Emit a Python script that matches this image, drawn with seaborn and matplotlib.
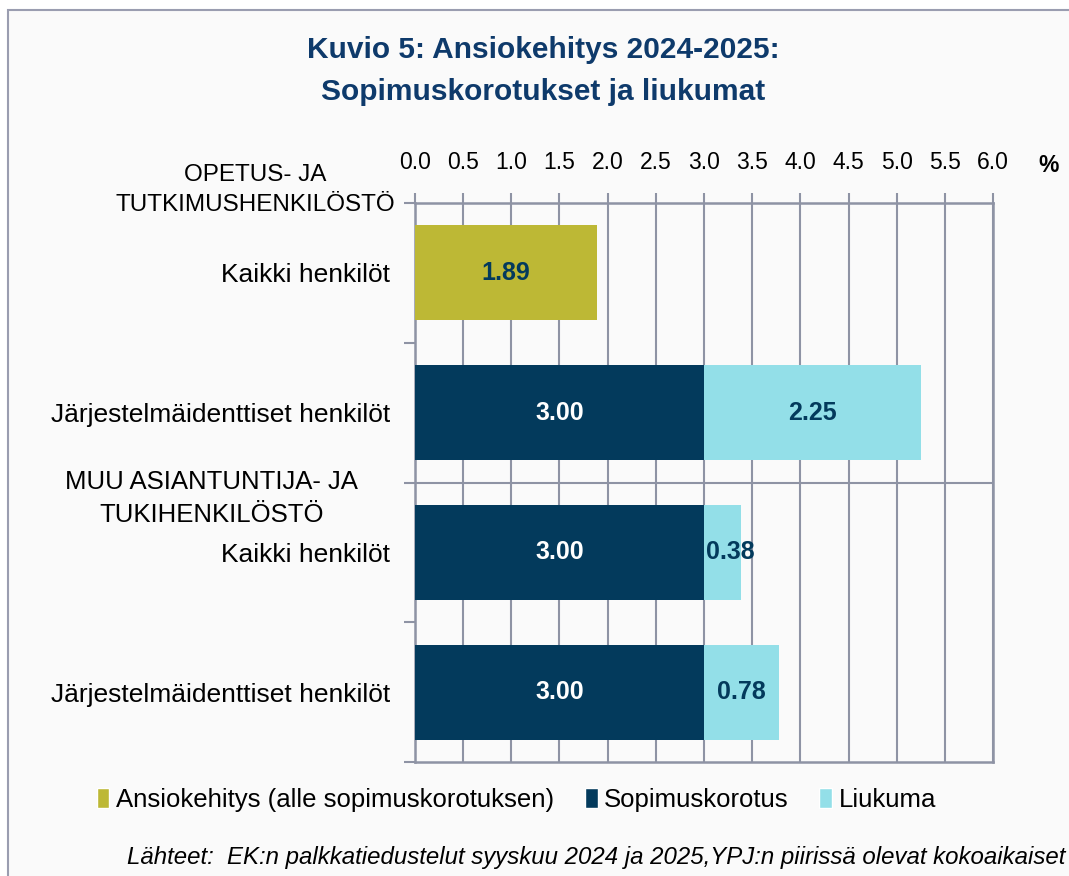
import matplotlib

matplotlib.use("Agg")

import matplotlib.pyplot as plt
import numpy as np
import pandas as pd
import seaborn as sns
from matplotlib.patches import Patch, Rectangle

# data
row_ids = ["r0", "r1", "r2", "r3"]
row_labels = [
    "Kaikki henkilöt",
    "Järjestelmäidenttiset henkilöt",
    "Kaikki henkilöt",
    "Järjestelmäidenttiset henkilöt",
]
group_labels = ["OPETUS- JA\nTUTKIMUSHENKILÖSTÖ", "MUU ASIANTUNTIJA- JA\nTUKIHENKILÖSTÖ"]
ansiokehitys = [1.89, np.nan, np.nan, np.nan]
sopimuskorotus = [np.nan, 3.00, 3.00, 3.00]
liukuma = [np.nan, 2.25, 0.38, 0.78]
x_ticks = [0.0, 0.5, 1.0, 1.5, 2.0, 2.5, 3.0, 3.5, 4.0, 4.5, 5.0, 5.5, 6.0]

OLIVE = "#BDB835"
NAVY = "#033A5C"
CYAN = "#93DFE8"
TITLE_BLUE = "#0E3A6B"
GRID = "#8E93A4"

sns.set_theme(style="white")
plt.rcParams["font.family"] = ["Liberation Sans", "DejaVu Sans"]
plt.rcParams["text.color"] = "black"
plt.rcParams["xtick.color"] = "black"
plt.rcParams["ytick.color"] = "black"

df = pd.DataFrame(
    {
        "row": row_ids,
        "ansiokehitys": ansiokehitys,
        "sopimuskorotus": sopimuskorotus,
        "liukuma": liukuma,
    }
)
df["total"] = df["sopimuskorotus"] + df["liukuma"]

fig = plt.figure(figsize=(10.69, 8.76), dpi=100, facecolor="white")
fig.patches.append(
    Rectangle((0.0075, -0.1), 1.2, 1.0886, transform=fig.transFigure,
              facecolor="#FAFAFA", edgecolor="#9A9DB0", linewidth=1.5, zorder=-10)
)
ax = fig.add_axes([0.388, 0.1301, 0.541, 0.6382])
ax.set_facecolor("none")

# stacked bars: draw the total first, then the base segment on top
bar_w = 0.68
stacked = df.dropna(subset=["total"])
sns.barplot(data=stacked, x="total", y="row", order=row_ids, orient="h",
            color=CYAN, width=bar_w, saturation=1, ax=ax, zorder=3)
sns.barplot(data=stacked, x="sopimuskorotus", y="row", order=row_ids, orient="h",
            color=NAVY, width=bar_w, saturation=1, ax=ax, zorder=3)
single = df.dropna(subset=["ansiokehitys"])
sns.barplot(data=single, x="ansiokehitys", y="row", order=row_ids, orient="h",
            color=OLIVE, width=bar_w, saturation=1, ax=ax, zorder=3)
for p in ax.patches:
    p.set_linewidth(0)

# value labels
lab = dict(va="center", fontsize=18, fontweight="bold", zorder=5)
for i, r in df.iterrows():
    if not np.isnan(r["ansiokehitys"]):
        ax.text(r["ansiokehitys"] / 2, i, f"{r['ansiokehitys']:.2f}", color=NAVY,
                ha="center", **lab)
    if not np.isnan(r["sopimuskorotus"]):
        ax.text(r["sopimuskorotus"] / 2, i, f"{r['sopimuskorotus']:.2f}", color="white",
                ha="center", **lab)
        if r["liukuma"] < 0.5:
            # narrow segment: label starts at the segment edge
            ax.text(r["sopimuskorotus"] + 0.02, i, f"{r['liukuma']:.2f}", color=NAVY,
                    ha="left", **lab)
        else:
            ax.text(r["sopimuskorotus"] + r["liukuma"] / 2, i, f"{r['liukuma']:.2f}",
                    color=NAVY, ha="center", **lab)

ax.set_xlim(0, 6)
ax.set_ylim(3.5, -0.5)
ax.xaxis.tick_top()
ax.set_xticks(x_ticks)
ax.set_xticklabels([f"{t:.1f}" for t in x_ticks], fontsize=16.5)
ax.tick_params(axis="x", which="major", top=True, bottom=False, length=7, width=1.5,
               color=GRID, pad=14)
ax.set_yticks(range(len(row_ids)))
ax.set_yticklabels(row_labels, fontsize=19)
ax.set_yticks([-0.5, 0.5, 1.5, 2.5, 3.5], minor=True)
ax.tick_params(axis="y", which="major", length=0, pad=18)
ax.tick_params(axis="y", which="minor", left=True, length=8, width=1.5, color=GRID)
ax.set_xlabel("")
ax.set_ylabel("")
ax.grid(axis="x", color=GRID, linewidth=1.5, zorder=0)
ax.set_axisbelow(True)
ax.axhline(1.5, color=GRID, linewidth=1.5, zorder=1)
for side in ["top", "bottom", "left", "right"]:
    ax.spines[side].set_visible(True)
    ax.spines[side].set_color(GRID)
    ax.spines[side].set_linewidth(1.8)

fig.text(0.981, 0.811, "%", fontsize=16.5, fontweight="bold", ha="center", va="center")

fig.text(0.508, 0.919, "Kuvio 5: Ansiokehitys 2024-2025:\nSopimuskorotukset ja liukumat",
         ha="center", va="center", color=TITLE_BLUE, fontsize=21.5, fontweight="bold",
         linespacing=1.6)

fig.text(0.239, 0.783, group_labels[0], ha="center", va="center", fontsize=17.5,
         linespacing=1.5)
fig.text(0.198, 0.431, group_labels[1], ha="center", va="center", fontsize=18.5,
         linespacing=1.45)

handles = [
    Patch(facecolor=OLIVE, label="Ansiokehitys (alle sopimuskorotuksen)"),
    Patch(facecolor=NAVY, label="Sopimuskorotus"),
    Patch(facecolor=CYAN, label="Liukuma"),
]
fig.legend(handles=handles, loc="center", bbox_to_anchor=(0.483, 0.087), ncol=3,
           frameon=False, fontsize=18.5, handlelength=0.5, handleheight=0.8,
           handletextpad=0.25, columnspacing=1.2)

fig.text(0.997, 0.021,
         "Lähteet:  EK:n palkkatiedustelut syyskuu 2024 ja 2025,YPJ:n piirissä olevat kokoaikaiset",
         ha="right", va="center", fontsize=17.3, style="italic")

fig.savefig("out.png", dpi=100, facecolor=fig.get_facecolor())
